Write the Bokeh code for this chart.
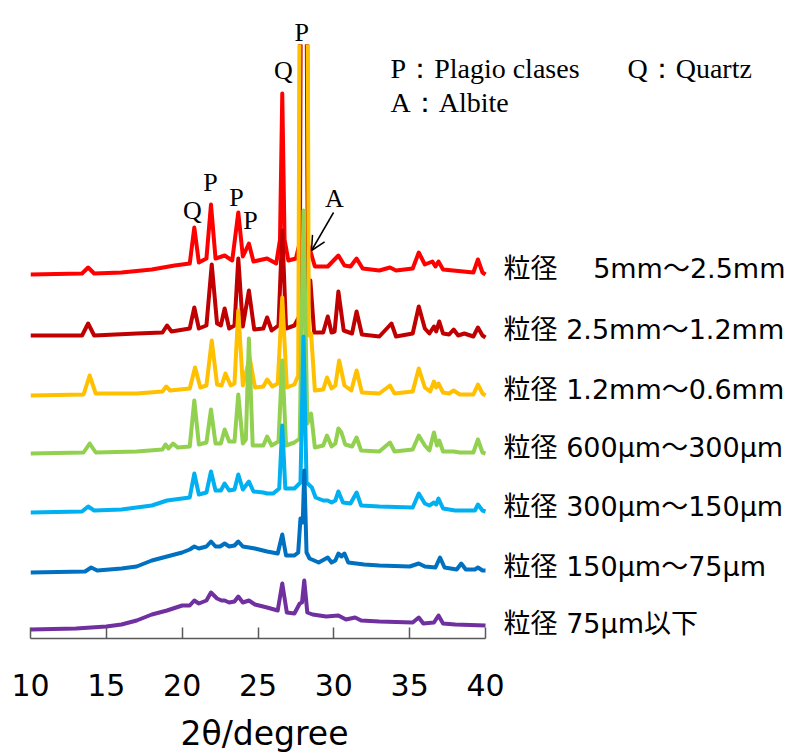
from bokeh.plotting import figure
from bokeh.models import Range1d, Label, Arrow, OpenHead, FixedTicker, Title
from bokeh.embed import file_html
from bokeh.resources import INLINE

# ---- data: (2theta, relative intensity above each pattern's start); 700 = off scale ----
red_pts = [(10.0,0),(13.4,1),(13.8,7),(14.2,1),(16.0,2),(18.0,5),(19.5,9),(20.5,11),(20.8,47),(21.1,12),
           (21.6,16),(21.9,70),(22.2,16),(22.8,19),(23.3,14),(23.7,62),(24.0,18),(24.4,31),(24.7,13),(25.6,16),
           (26.2,11),(26.45,35),(26.6,181),(26.75,35),(27.0,14),(27.5,16),(27.72,30),(27.88,700),(28.12,700),(28.3,30),
           (28.5,21),(28.75,8),(29.6,8),(30.3,19),(30.7,9),(31.1,8),(31.5,16),(31.9,6),(33.0,4),(33.7,7),(34.1,4),
           (35.2,6),(35.6,22),(36.0,10),(36.5,13),(36.7,8),(36.9,13),(37.2,5),(39.2,2),(39.5,15),(39.8,2),(40.0,0)]
darkred_pts = [(10.0,0),(13.4,0),(13.8,12),(14.2,0),(17.0,2),(18.7,3),(19.0,10),(19.3,4),(20.5,7),(20.8,28),(21.1,7),
               (21.6,10),(21.95,71),(22.3,12),(22.55,10),(22.8,27),(23.1,7),(23.45,10),(23.7,77),(24.0,9),(24.4,45),
               (24.75,6),(25.35,7),(25.6,18),(25.9,5),(26.35,10),(26.6,105),(26.85,7),(27.4,10),(27.75,20),(27.9,700),
               (28.08,700),(28.3,45),(28.45,55),(28.7,3),(29.3,3),(29.6,19),(29.85,3),(30.05,4),(30.3,44),(30.65,5),
               (31.2,2),(31.5,24),(31.85,1),(33.0,-1),(33.8,12),(34.1,-1),(35.2,2),(35.6,29),(36.0,7),(36.3,2),
               (36.6,9),(36.75,4),(36.95,14),(37.2,2),(37.6,1),(37.9,6),(38.2,0),(38.6,2),(39.2,-1),(39.5,8),(39.8,0),(40.0,-2)]
yellow_pts = [(10.0,0),(13.5,1),(13.9,20),(14.3,2),(17.0,2),(18.7,4),(18.95,9),(19.2,5),(20.5,7),(20.85,28),(21.2,8),
              (21.6,10),(21.95,55),(22.3,11),(22.6,10),(22.85,22),(23.2,10),(23.45,12),(23.7,85),(24.0,10),(24.45,38),
              (24.8,8),(25.35,9),(25.6,16),(25.95,9),(26.3,12),(26.6,98),(26.9,8),(27.4,11),(27.65,20),(27.82,700),
              (28.2,700),(28.35,60),(28.5,62),(28.75,5),(29.3,6),(29.55,18),(29.85,7),(30.1,10),(30.35,35),(30.7,10),
              (31.15,5),(31.5,25),(31.85,3),(33.0,2),(33.7,10),(34.0,2),(35.2,4),(35.6,27),(36.0,8),(36.35,4),
              (36.6,14),(36.75,8),(36.9,12),(37.2,3),(37.6,2),(37.9,5),(38.3,1),(39.2,1),(39.5,11),(39.8,2),(40.0,0)]
green_pts = [(10.0,0),(13.5,1),(13.9,10),(14.3,1),(17.0,2),(18.7,4),(18.9,9),(19.1,5),(19.4,10),(19.7,6),(20.5,7),
             (20.8,53),(21.1,9),(21.6,11),(21.9,44),(22.2,10),(22.55,10),(22.8,24),(23.1,12),(23.45,12),(23.7,59),
             (24.0,10),(24.2,14),(24.4,115),(24.65,8),(25.35,8),(25.6,17),(25.9,8),(26.35,12),(26.6,93),(26.85,8),
             (27.4,11),(27.75,15),(28.0,243),(28.25,30),(28.5,40),(28.75,6),(29.3,8),(29.55,18),(29.85,7),(30.1,10),
             (30.3,25),(30.5,21),(30.75,9),(31.2,7),(31.5,16),(31.8,3),(33.0,2),(33.7,11),(34.0,2),(35.2,4),(35.6,18),
             (36.0,8),(36.3,3),(36.6,21),(36.8,8),(36.95,13),(37.2,2),(37.9,2),(38.3,1),(39.2,1),(39.5,14),(39.8,1),(40.0,0)]
lightblue_pts = [(10.0,0),(13.4,1),(13.8,6),(14.2,2),(16.0,3),(18.0,7),(19.0,12),(20.5,15),(20.8,39),(21.1,18),
                 (21.6,20),(21.9,41),(22.2,22),(22.55,22),(22.8,29),(23.1,22),(23.45,23),(23.7,38),(24.0,23),(24.4,31),
                 (24.7,21),(25.35,20),(25.6,19),(26.0,19),(26.4,24),(26.6,87),(26.8,24),(27.4,24),(27.8,30),(28.0,176),
                 (28.2,30),(28.55,25),(28.8,15),(29.3,12),(29.6,12),(29.85,10),(30.1,12),(30.3,21),(30.6,10),(31.1,9),
                 (31.5,20),(31.8,7),(33.0,6),(35.2,5),(35.6,19),(36.0,9),(36.3,7),(36.6,10),(36.75,8),(36.9,14),
                 (37.2,4),(38.0,2),(39.3,2),(39.5,8),(39.8,2),(40.0,1)]
blue_pts = [(10.0,0),(13.6,1),(14.0,5),(14.4,2),(16.0,4),(17.0,6),(18.0,12),(19.0,16),(20.0,20),(20.5,23),(20.8,26),
            (21.1,24),(21.6,26),(21.9,31),(22.2,26),(22.5,26),(22.8,29),(23.1,26),(23.45,27),(23.7,31),(24.0,26),
            (24.4,25),(24.8,24),(25.6,21),(26.3,19),(26.6,38),(26.85,17),(27.4,17),(27.65,20),(27.8,54),(27.95,50),
            (28.05,102),(28.2,20),(28.4,14),(29.0,10),(29.6,15),(29.85,10),(30.1,12),(30.3,19),(30.5,16),(30.7,19),
            (30.95,10),(32.0,8),(33.0,7),(35.0,6),(35.6,9),(36.0,6),(36.7,5),(37.0,15),(37.3,5),(38.1,3),(38.4,9),
            (38.7,3),(39.3,3),(39.5,5),(39.8,2),(40.0,2)]
purple_pts = [(10.0,0),(13.0,1),(14.0,2),(15.0,3),(16.0,5),(17.0,9),(18.0,15),(19.0,19),(20.0,24),(20.5,24),(20.8,29),
              (21.1,26),(21.6,29),(21.9,37),(22.3,31),(22.6,29),(22.8,29),(23.1,27),(23.45,28),(23.7,33),(24.0,27),
              (24.4,29),(24.8,25),(25.6,22),(26.3,19),(26.6,46),(26.9,17),(27.4,16),(27.75,26),(27.9,27),(28.05,49),
              (28.25,17),(28.6,15),(29.5,13),(30.3,14),(30.8,10),(31.4,12),(31.8,9),(33.0,8),(35.2,7),(35.6,12),
              (35.9,6),(36.6,7),(36.9,14),(37.2,6),(38.0,5),(40.0,4)]

series_pts = [red_pts, darkred_pts, yellow_pts, green_pts, lightblue_pts, blue_pts, purple_pts]
offsets = [364, 303, 243, 185, 126, 66, 9]
colors = ["#FF0000", "#C00000", "#FFC000", "#92D050", "#00B0F0", "#0070C0", "#7030A0"]
series_labels = ["粒径　 5mm～2.5mm", "粒径 2.5mm～1.2mm", "粒径 1.2mm～0.6mm", "粒径 600μm～300μm",
                 "粒径 300μm～150μm", "粒径 150μm～75μm", "粒径 75μm以下"]
x_ticks = [10, 15, 20, 25, 30, 35, 40]

peak_marks = ["Q", "Q", "P", "P", "P", "A"]
peak_x = [26.68, 20.68, 21.87, 23.58, 24.5, 30.04]
peak_y = [568, 428, 456, 441, 418, 440]

# frame: page x 30..800, page y 44..638 ; 15.167 px per degree
p = figure(frame_width=770, frame_height=594,
           x_range=Range1d(10, 10 + 770 / 15.167), y_range=Range1d(0, 594),
           output_backend="svg", toolbar_location=None,
           min_border_left=30, min_border_right=0, min_border_top=44, min_border_bottom=116)
p.outline_line_color = None
p.grid.visible = False
p.yaxis.visible = False
p.background_fill_color = "white"

for pts, off, col in zip(series_pts, offsets, colors):
    xs = [a for a, b in pts]
    ys = [b + off for a, b in pts]
    p.line(xs, ys, line_color=col, line_width=4, line_join="round")

ax = p.xaxis[0]
ax.bounds = (10, 40)
ax.ticker = FixedTicker(ticks=x_ticks)
ax.minor_tick_line_color = None
ax.major_tick_in = 11
ax.major_tick_out = 0
ax.axis_line_color = "#595959"
ax.axis_line_width = 1.5
ax.major_tick_line_color = "#595959"
ax.major_tick_line_width = 1.5
ax.major_label_text_font = "DejaVu Sans"
ax.major_label_text_font_size = "30px"
ax.major_label_text_color = "black"
ax.major_label_standoff = 35

# axis title, centred under the 10-40 axis span
p.add_layout(Title(text="2θ/degree", align="left", offset=150, text_font="DejaVu Sans",
                   text_font_size="33px", text_font_style="normal", text_color="black", standoff=26), "below")
# peak mark above the chart top
p.add_layout(Title(text="P", align="left", offset=264, text_font="Liberation Serif",
                   text_font_size="26px", text_font_style="normal", text_color="black", standoff=-4), "above")

for t, x, y in zip(peak_marks, peak_x, peak_y):
    p.add_layout(Label(x=x, y=y, text=t, text_font="Liberation Serif", text_font_size="26px",
                       text_align="center", text_baseline="middle", text_color="black"))

p.add_layout(Arrow(end=OpenHead(size=14, line_width=1.5, line_color="black"),
                   x_start=29.98, y_start=426, x_end=28.53, y_end=388,
                   line_width=1.5, line_color="black"))

p.add_layout(Label(x=33.74, y=570, text="P：Plagio clases", text_font="Liberation Serif",
                   text_font_size="28px", text_baseline="middle", text_color="black"))
p.add_layout(Label(x=49.36, y=570, text="Q：Quartz", text_font="Liberation Serif",
                   text_font_size="28px", text_baseline="middle", text_color="black"))
p.add_layout(Label(x=33.74, y=536, text="A：Albite", text_font="Liberation Serif",
                   text_font_size="28px", text_baseline="middle", text_color="black"))

for lab, off in zip(series_labels, offsets):
    p.add_layout(Label(x=41.19, y=off + 6, text=lab, text_font="'DejaVu Sans', 'Noto Sans CJK JP'",
                       text_font_size="27px", text_baseline="middle", text_color="black"))

open("out.html", "w").write(file_html(p, INLINE))
